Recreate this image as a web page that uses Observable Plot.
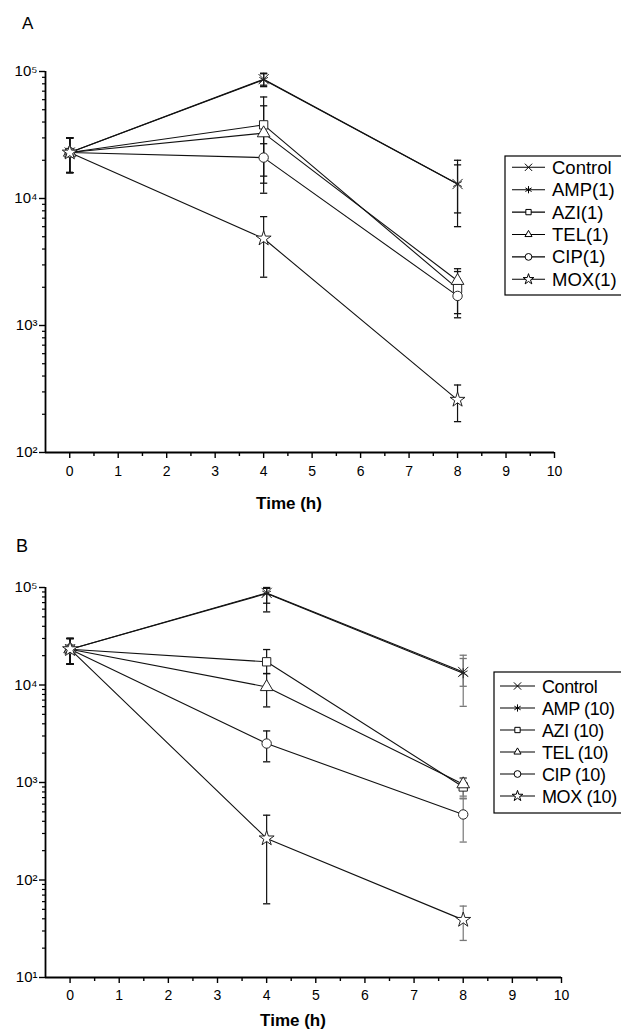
<!DOCTYPE html>
<html><head><meta charset="utf-8">
<script src="https://cdn.jsdelivr.net/npm/d3@7"></script>
<script src="https://cdn.jsdelivr.net/npm/@observablehq/plot@0.6"></script>
<style>
body{margin:0;background:#fff;overflow:hidden;font-family:"Liberation Sans",Arial,sans-serif}
#wrap{position:relative;width:621px;height:1030px;overflow:hidden;background:#fff}
.panel{position:absolute;left:0}
#overlay{position:absolute;left:0;top:0;pointer-events:none}
</style></head><body><div id="wrap"></div>
<script>
// ---------- data ----------
const times = [0, 4, 8];
const xTicks = [0, 1, 2, 3, 4, 5, 6, 7, 8, 9, 10];
const xMinorTicks = [0.5, 1.5, 2.5, 3.5, 4.5, 5.5, 6.5, 7.5, 8.5, 9.5];
const xDomain = [-0.5, 10];
const symbolsList = ["times", "asterisk", "square", "triangle", "circle", "star"];

// Panel A (1x MIC)
const namesA = ["Control", "AMP(1)", "AZI(1)", "TEL(1)", "CIP(1)", "MOX(1)"];
const meanA = [
  [23000, 87000, 13000],
  [23000, 86000, 13000],
  [23000, 38000, 1950],
  [23000, 32700, 2250],
  [23000, 21000, 1710],
  [23000, 4840, 260]
];
const lowA = [
  [16000, 78000, 6000],
  [16000, 76000, 7700],
  [16000, 13200, 1240],
  [16000, 11000, 1700],
  [16000, 15000, 1150],
  [16000, 2400, 175]
];
const highA = [
  [30000, 97000, 20000],
  [30000, 96000, 18400],
  [30000, 63000, 2660],
  [30000, 53700, 2800],
  [30000, 27000, 2250],
  [30000, 7200, 340]
];
const yTicksA = [1e2, 1e3, 1e4, 1e5];

// Panel B (10x MIC)
const namesB = ["Control", "AMP (10)", "AZI (10)", "TEL (10)", "CIP (10)", "MOX (10)"];
const meanB = [
  [23300, 88000, 13600],
  [23300, 86700, 13200],
  [23300, 17300, 900],
  [23300, 9550, 962],
  [23300, 2510, 470],
  [23300, 267, 39]
];
const lowB = [
  [16400, 69000, 6040],
  [16400, 56200, 9700],
  [16400, 13100, 690],
  [16400, 5960, 725],
  [16400, 1630, 245],
  [16400, 57, 24]
];
const highB = [
  [30000, 100000, 20200],
  [30000, 98000, 18700],
  [30000, 23100, 1120],
  [30000, 13100, 1100],
  [30000, 3380, 680],
  [30000, 462, 54]
];
const yTicksB = [1e1, 1e2, 1e3, 1e4, 1e5];

// ---------- helpers ----------
const supDigits = {"0":"⁰","1":"¹","2":"²","3":"³","4":"⁴","5":"⁵","6":"⁶"};
const powFmt = d => "10" + supDigits[String(Math.round(Math.log10(d)))];
const minorOf = ticks => ticks.slice(0, -1).flatMap(t => [2,3,4,5,6,7,8,9].map(k => k * t));
const capSymbol = {draw(ctx, size) { const r = Math.sqrt(size / Math.PI); ctx.moveTo(-r, 0); ctx.lineTo(r, 0); }};

function rowsOf(names, mean, low, high) {
  const rows = [];
  names.forEach((n, s) => times.forEach((t, i) => rows.push({
    series: n, t, v: mean[s][i], lo: low[s][i], hi: high[s][i], symbol: symbolsList[s]
  })));
  return rows;
}

function makePanel({names, mean, low, high, yTicks, height, mt, mb, ml, mr, pad, greyAt8}) {
  const rows = rowsOf(names, mean, low, high);
  const barColor = d => (greyAt8 && d.t === 8) ? "#777" : "#111";
  return Plot.plot({
    width: 621, height,
    marginTop: mt, marginBottom: mb, marginLeft: ml, marginRight: mr,
    style: {fontFamily: "'Liberation Sans', Arial, sans-serif", color: "#000", background: "transparent"},
    x: {domain: xDomain},
    y: {type: "log", domain: [yTicks[0], yTicks[yTicks.length - 1]]},
    marks: [
      Plot.axisX({ticks: xTicks, tickSize: 6, tickPadding: pad, fontSize: 14, label: null, strokeWidth: 1.4, tickFormat: d => String(d)}),
      Plot.axisX({ticks: xMinorTicks, tickSize: 4, label: null, strokeWidth: 1.4, tickFormat: () => ""}),
      Plot.axisY({ticks: yTicks, tickSize: 6, tickPadding: 2, fontSize: 15, label: null, strokeWidth: 1.4, tickFormat: powFmt}),
      Plot.axisY({ticks: minorOf(yTicks), tickSize: 3, label: null, strokeWidth: 1.2, tickFormat: () => ""}),
      Plot.ruleY([yTicks[0]], {stroke: "#000", strokeWidth: 1.8}),
      Plot.ruleX([xDomain[0]], {stroke: "#000", strokeWidth: 1.8}),
      Plot.line(rows, {x: "t", y: "v", z: "series", stroke: "#111", strokeWidth: 1.1}),
      Plot.ruleX(rows, {x: "t", y1: "lo", y2: "hi", stroke: barColor, strokeWidth: 1.2}),
      Plot.dot(rows, {x: "t", y: "lo", symbol: capSymbol, r: 3.6, stroke: barColor, strokeWidth: 1.3}),
      Plot.dot(rows, {x: "t", y: "hi", symbol: capSymbol, r: 3.6, stroke: barColor, strokeWidth: 1.3}),
      Plot.dot(rows, {x: "t", y: "v", symbol: "symbol", r: 4.7, stroke: "#222", fill: "white", strokeWidth: 1})
    ]
  });
}

const wrap = document.getElementById("wrap");

const pA = makePanel({names: namesA, mean: meanA, low: lowA, high: highA, yTicks: yTicksA,
  height: 480, mt: 31, mb: 68, ml: 45, mr: 67, pad: 8, greyAt8: false});
pA.classList.add("panel"); pA.style.top = "40px";
wrap.appendChild(pA);

const pB = makePanel({names: namesB, mean: meanB, low: lowB, high: highB, yTicks: yTicksB,
  height: 470, mt: 27, mb: 53, ml: 45, mr: 60, pad: 7, greyAt8: true});
pB.classList.add("panel"); pB.style.top = "560px";
wrap.appendChild(pB);

// ---------- overlay: panel letters, axis titles, legends ----------
const svg = d3.select(wrap).append("svg").attr("id", "overlay").attr("width", 621).attr("height", 1030)
  .style("font-family", "'Liberation Sans', Arial, sans-serif");

svg.append("text").attr("x", 22).attr("y", 29).attr("font-size", 17).text("A");
svg.append("text").attr("x", 16).attr("y", 552).attr("font-size", 18).text("B");
svg.append("text").attr("x", 289).attr("y", 509).attr("font-size", 17).attr("font-weight", "bold").attr("text-anchor", "middle").text("Time (h)");
svg.append("text").attr("x", 293).attr("y", 1026).attr("font-size", 17).attr("font-weight", "bold").attr("text-anchor", "middle").text("Time (h)");

const d3Sym = {times: d3.symbolTimes, asterisk: d3.symbolAsterisk, square: d3.symbolSquare2,
  triangle: d3.symbolTriangle2, circle: d3.symbolCircle, star: d3.symbolStar};

function legend(names, {left, top, bottom, cy0, dy, lx1, lx2, tx, fs, ls}) {
  const g = svg.append("g");
  g.append("rect").attr("x", left).attr("y", top).attr("width", 200).attr("height", bottom - top)
    .attr("fill", "white").attr("stroke", "#000").attr("stroke-width", 1.2);
  names.forEach((n, i) => {
    const cy = cy0 + i * dy;
    const cx = (lx1 + lx2) / 2;
    g.append("line").attr("x1", lx1).attr("x2", lx2).attr("y1", cy).attr("y2", cy).attr("stroke", "#000").attr("stroke-width", 1.1);
    g.append("path").attr("d", d3.symbol(d3Sym[symbolsList[i]], 36)()).attr("transform", `translate(${cx},${cy})`)
      .attr("fill", "white").attr("stroke", "#000").attr("stroke-width", 1);
    g.append("text").attr("x", tx).attr("y", cy + 6.5).attr("font-size", fs).attr("letter-spacing", ls).text(n);
  });
}
legend(namesA, {left: 505, top: 156, bottom: 295, cy0: 167.3, dy: 22.4, lx1: 512, lx2: 545, tx: 552, fs: 18.5, ls: 0});
legend(namesB, {left: 494, top: 672, bottom: 813, cy0: 686, dy: 22, lx1: 500, lx2: 535, tx: 542, fs: 18, ls: -0.4});
</script>
</body></html>
